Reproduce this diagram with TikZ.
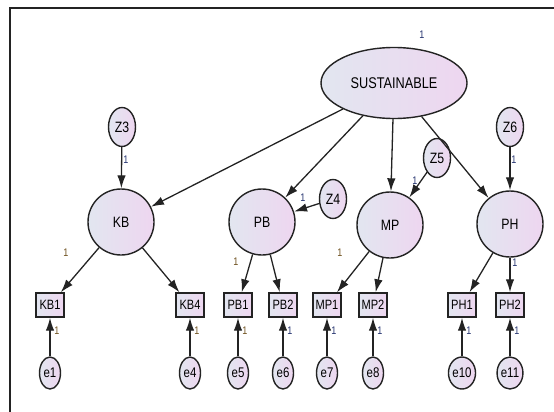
\documentclass[tikz,border=0pt]{standalone}
\usepackage{fontspec}
\setmainfont[FakeStretch=0.82]{Liberation Sans}
\usetikzlibrary{shapes.geometric,arrows.meta}
\definecolor{lblue}{RGB}{226,230,240}
\definecolor{lpink}{RGB}{238,214,240}
\definecolor{edge}{RGB}{35,35,35}
\definecolor{lab}{RGB}{35,50,110}
\definecolor{laborange}{RGB}{110,80,30}
\tikzset{
  latent/.style={circle, draw=edge, line width=1.4pt, left color=lblue, right color=lpink, minimum size=66pt, inner sep=0pt, font=\fontsize{15}{15}\selectfont},
  err/.style={ellipse, draw=edge, line width=1.4pt, left color=lblue, right color=lpink, minimum width=27pt, minimum height=39pt, inner sep=0pt, font=\fontsize{15}{15}\selectfont},
  errs/.style={ellipse, draw=edge, line width=1.4pt, left color=lblue, right color=lpink, minimum width=21pt, minimum height=32pt, inner sep=0pt, font=\fontsize{14}{14}\selectfont},
  obs/.style={rectangle, draw=edge, line width=1.4pt, left color=lblue, right color=lpink, minimum width=28pt, minimum height=24pt, inner sep=0pt, font=\fontsize{13.5}{13.5}\selectfont},
  arr/.style={draw=edge, line width=1.3pt, -{Latex[length=13pt,width=8.5pt]}},
  one/.style={font=\fontsize{11}{11}\selectfont, text=lab, inner sep=0pt},
  oneo/.style={font=\fontsize{11}{11}\selectfont, text=laborange, inner sep=0pt},
}
\begin{document}
\begin{tikzpicture}[x=1pt,y=-1pt]
\useasboundingbox (0,0) rectangle (554,412);
\coordinate (fa) at (10,412);
\coordinate (fb) at (10,8);
\coordinate (fc) at (554,8);
\draw[line width=1.3pt, edge] (fa) -- (fb) -- (fc);

\node[ellipse, draw=edge, line width=1.4pt, left color=lblue, right color=lpink, minimum width=146pt, minimum height=71pt, inner sep=0pt, font=\fontsize{15.5}{15.5}\selectfont] (S) at (394,83) {SUSTAINABLE};
\node[one] (s1) at (422,35) {1};

\node[latent] (KB) at (121,222) {KB};
\node[latent] (PB) at (262,222) {PB};
\node[latent] (MP) at (390,225) {MP};
\node[latent] (PH) at (510,224) {PH};

\node[err] (Z3) at (122,127) {Z3};
\node[err] (Z4) at (333,199) {Z4};
\node[err] (Z5) at (437,158) {Z5};
\node[err] (Z6) at (510,127) {Z6};

\node[obs] (KB1) at (50,305) {KB1};
\node[obs] (KB4) at (190,305) {KB4};
\node[obs] (PB1) at (238,305) {PB1};
\node[obs] (PB2) at (283,305) {PB2};
\node[obs] (MP1) at (327,305) {MP1};
\node[obs] (MP2) at (373,305) {MP2};
\node[obs] (PH1) at (462,305) {PH1};
\node[obs] (PH2) at (510,305) {PH2};

\node[errs] (e1) at (50,373) {e1};
\node[errs] (e4) at (190,373) {e4};
\node[errs] (e5) at (238,373) {e5};
\node[errs] (e6) at (283,373) {e6};
\node[errs] (e7) at (327,373) {e7};
\node[errs] (e8) at (373,373) {e8};
\node[errs] (e10) at (462,373) {e10};
\node[errs] (e11) at (510,373) {e11};

\draw[arr] (S) -- (KB);
\draw[arr] (S) -- (PB);
\draw[arr] (S) -- (MP);
\draw[arr] (S) -- (PH);

\draw[arr] (Z3) -- (KB);
\draw[arr] (Z4) -- (PB);
\draw[arr] (Z5) -- (MP);
\draw[arr] (Z6) -- (PH);

\draw[arr] (KB) -- (KB1);
\draw[arr] (KB) -- (KB4);
\draw[arr] (PB) -- (PB1);
\draw[arr] (PB) -- (PB2);
\draw[arr] (MP) -- (MP1);
\draw[arr] (MP) -- (MP2);
\draw[arr] (PH) -- (PH1);
\draw[arr] (PH) -- (PH2);

\foreach \e/\b in {e1/KB1,e4/KB4,e5/PB1,e6/PB2,e7/MP1,e8/MP2,e10/PH1,e11/PH2}
  \draw[arr] (\e) -- (\b);

\node[one] (lz3) at (126,160) {1};
\node[one] (lz4) at (303,198) {1};
\node[one] (lz5) at (415,181) {1};
\node[one] (lz6) at (514,160) {1};
\node[oneo] (lkb) at (66,253) {1};
\node[oneo] (lpb) at (236,262) {1};
\node[oneo] (lmp) at (340,253) {1};
\node[one] (lph) at (515,263) {1};

\node[oneo] (le1) at (57,331) {1};
\node[oneo] (le4) at (197,331) {1};
\node[oneo] (le5) at (245,331) {1};
\node[one] (le6) at (290,331) {1};
\node[one] (le7) at (334,331) {1};
\node[one] (le8) at (380,331) {1};
\node[one] (le10) at (469,331) {1};
\node[one] (le11) at (517,331) {1};
\end{tikzpicture}
\end{document}
